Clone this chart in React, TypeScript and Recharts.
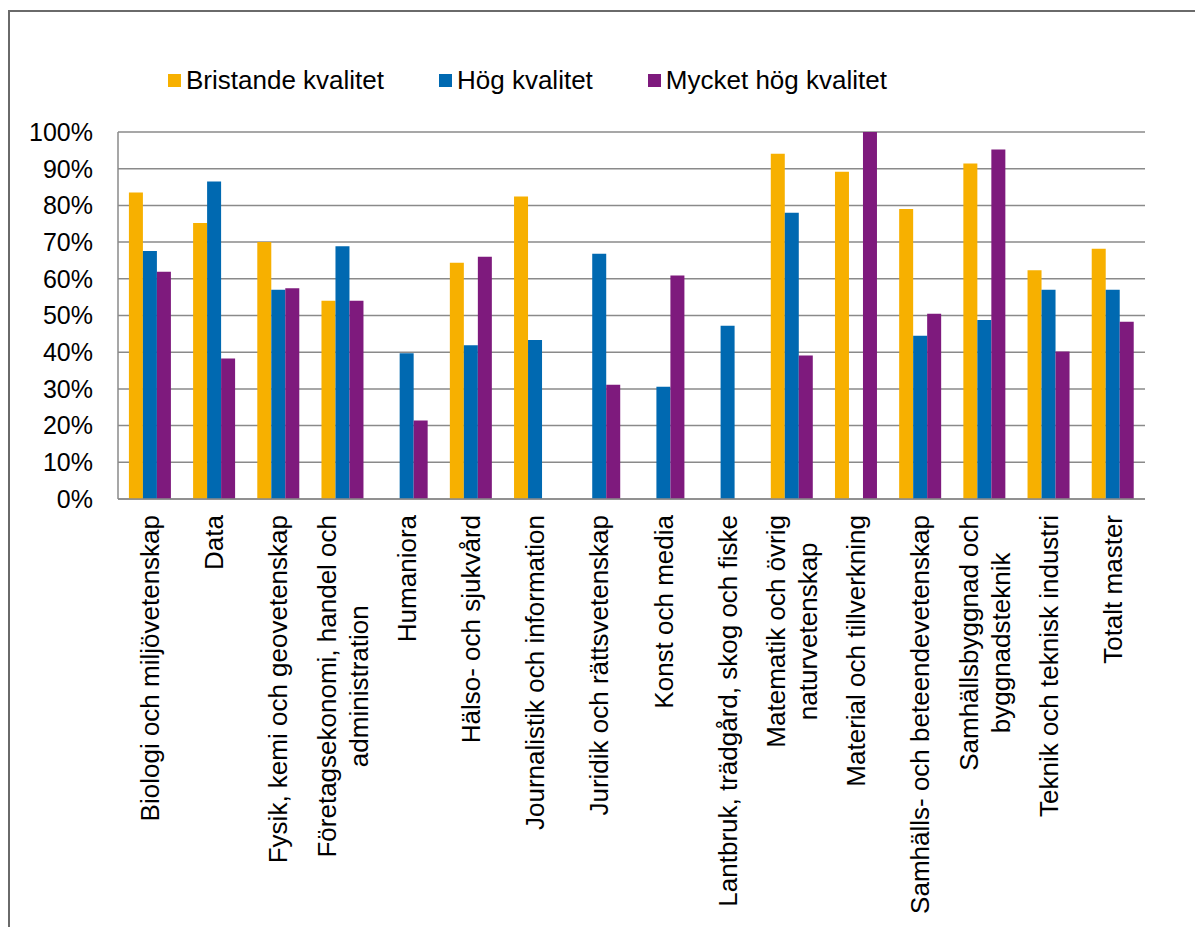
import {
	Bar,
	BarChart,
	CartesianGrid,
	Legend,
	XAxis,
	YAxis,
} from "recharts";

const categories = [
	"Biologi och miljövetenskap",
	"Data",
	"Fysik, kemi och geovetenskap",
	"Företagsekonomi, handel och\nadministration",
	"Humaniora",
	"Hälso- och sjukvård",
	"Journalistik och information",
	"Juridik och rättsvetenskap",
	"Konst och media",
	"Lantbruk, trädgård, skog och fiske",
	"Matematik och övrig\nnaturvetenskap",
	"Material och tillverkning",
	"Samhälls- och beteendevetenskap",
	"Samhällsbyggnad och\nbyggnadsteknik",
	"Teknik och teknisk industri",
	"Totalt master",
];

const bristande = [83.5, 75.2, 70.0, 54.0, null, 64.4, 82.4, null, null, null, 94.1, 89.2, 79.0, 91.4, 62.3, 68.2];
const hog = [67.6, 86.5, 57.0, 68.9, 39.7, 41.9, 43.3, 66.8, 30.6, 47.2, 78.0, null, 44.5, 48.8, 57.0, 57.0];
const mycketHog = [61.9, 38.3, 57.4, 54.0, 21.4, 66.0, null, 31.1, 60.9, null, 39.1, 100, 50.5, 95.2, 40.2, 48.3];

const yTicks = [0, 10, 20, 30, 40, 50, 60, 70, 80, 90, 100];

const seriesNames = ["Bristande kvalitet", "Hög kvalitet", "Mycket hög kvalitet"];
const seriesColors = ["#F7B000", "#0069B1", "#7E1A7D"];

const data = categories.map((name, i) => ({
	name,
	bristande: bristande[i],
	hog: hog[i],
	mycketHog: mycketHog[i],
}));

const FONT = "'Liberation Sans', Arial, sans-serif";
const LABEL_SIZE = 26;
const GRID = "#8a8a8a";

let measureCtx: CanvasRenderingContext2D | null = null;
const textWidth = (s: string) => {
	if (!measureCtx && typeof document !== "undefined") {
		measureCtx = document.createElement("canvas").getContext("2d");
	}
	if (!measureCtx) return s.length * 13;
	measureCtx.font = `${LABEL_SIZE}px ${FONT}`;
	return measureCtx.measureText(s).width;
};

// rotated category labels, multi-line ones centred on each other
const CategoryTick = ({x, y, payload}: {x?: number; y?: number; payload?: {value: string}}) => {
	const lines = String(payload?.value ?? "").split("\n");
	const maxW = Math.max(...lines.map(textWidth));
	const lh = 32;
	return (
		<g transform={`translate(${x},${y})`}>
			{lines.map((line, i) => (
				<text
					key={i}
					transform="rotate(-90)"
					x={-maxW / 2}
					y={(i - (lines.length - 1) / 2) * lh}
					textAnchor="middle"
					dominantBaseline="central"
					fontSize={LABEL_SIZE}
					fontFamily={FONT}
					fill="#000"
				>
					{line}
				</text>
			))}
		</g>
	);
};

const LegendRow = () => (
	<div style={{display: "flex", alignItems: "center", fontFamily: FONT, fontSize: 26, color: "#000", whiteSpace: "nowrap"}}>
		{seriesNames.map((name, i) => (
			<div key={name} style={{display: "flex", alignItems: "center", marginRight: i < 2 ? 55 : 0}}>
				<span style={{width: 13, height: 13, background: seriesColors[i], marginRight: 5, display: "inline-block"}} />
				<span>{name}</span>
			</div>
		))}
	</div>
);

export default function App() {
	return (
		<div style={{position: "absolute", left: 0, top: 0, width: 1195, height: 927, overflow: "hidden", background: "#fff"}}>
			<div
				style={{
					position: "absolute",
					left: 8,
					top: 10,
					width: 1400,
					height: 1200,
					borderTop: "2px solid #6a6a6a",
					borderLeft: "2px solid #6a6a6a",
				}}
			/>
			<div style={{position: "absolute", left: 0, top: 0}}>
				<BarChart
					width={1195}
					height={927}
					data={data}
					margin={{top: 132, right: 50, bottom: 0, left: 0}}
					barCategoryGap="17%"
					barGap={0}
				>
					<CartesianGrid vertical={false} stroke={GRID} strokeWidth={1.5} />
					<XAxis
						dataKey="name"
						interval={0}
						height={428}
						axisLine={{stroke: GRID, strokeWidth: 1.5}}
						tickLine={false}
						tickSize={0}
						tickMargin={16}
						tick={<CategoryTick />}
					/>
					<YAxis
						width={118}
						domain={[0, 100]}
						ticks={yTicks}
						interval={0}
						tickFormatter={(v) => `${v}%`}
						axisLine={{stroke: GRID, strokeWidth: 1.5}}
						tickLine={false}
						tickSize={0}
						tickMargin={25}
						tick={{fill: "#000", fontSize: 25, fontFamily: FONT}}
					/>
					<Legend
						layout="vertical"
						align="center"
						verticalAlign="middle"
						content={<LegendRow />}
						wrapperStyle={{position: "absolute", left: 168, top: 65, width: "auto"}}
					/>
					<Bar dataKey="bristande" name={seriesNames[0]} fill={seriesColors[0]} isAnimationActive={false} />
					<Bar dataKey="hog" name={seriesNames[1]} fill={seriesColors[1]} isAnimationActive={false} />
					<Bar dataKey="mycketHog" name={seriesNames[2]} fill={seriesColors[2]} isAnimationActive={false} />
				</BarChart>
			</div>
		</div>
	);
}
